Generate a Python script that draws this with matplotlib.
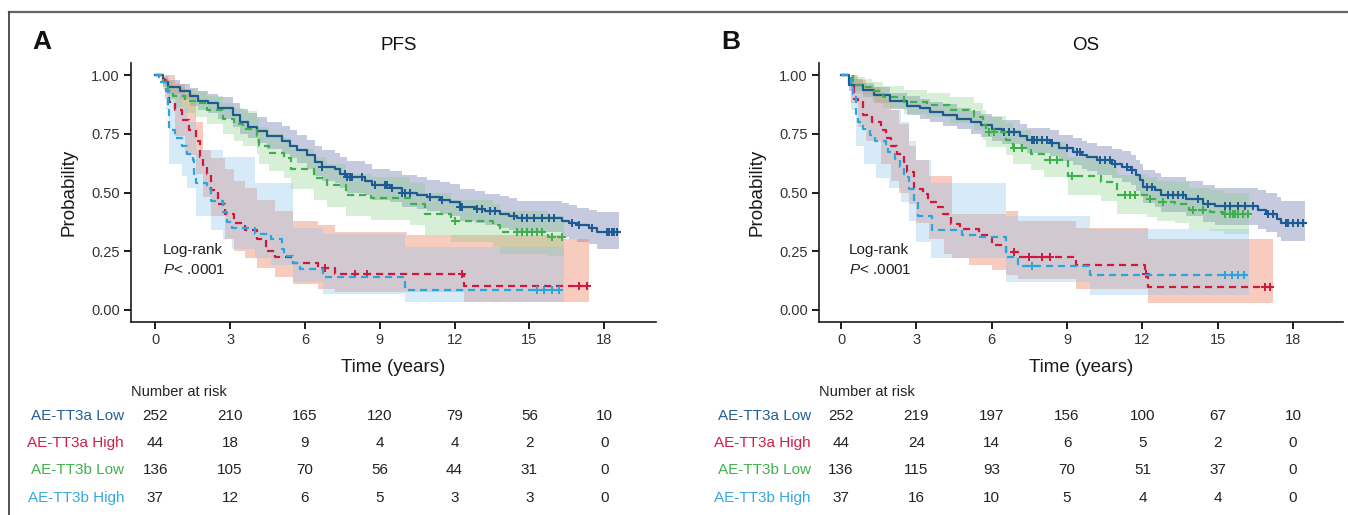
#!/usr/bin/env python3
"""Kaplan-Meier panels (PFS / OS) for AE-TT3a / AE-TT3b groups with risk tables."""

import numpy as np
import matplotlib
matplotlib.use("Agg")
import matplotlib.pyplot as plt
from matplotlib.lines import Line2D
from matplotlib.transforms import blended_transform_factory

plt.rcParams["font.family"] = ["Liberation Sans", "DejaVu Sans"]
plt.rcParams["mathtext.fontset"] = "custom"
plt.rcParams["mathtext.it"] = "Liberation Sans:italic"
plt.rcParams["mathtext.rm"] = "Liberation Sans"

GROUPS = ["AE-TT3a Low", "AE-TT3a High", "AE-TT3b Low", "AE-TT3b High"]
RISK_TIMES = [0, 3, 6, 9, 12, 15, 18]

# ---- PFS ------------------------------------------------------------------
# low groups: CI bounds given at the same step times as the curve
pfs_a_low_t = [0, 0.3, 0.5, 1.0, 1.4, 1.7, 2.1, 2.5, 3.1, 3.4, 3.7, 4.1, 4.5, 5.1,
               5.4, 5.7, 6.1, 6.4, 6.7, 7.2, 7.4, 7.7, 8.4, 8.7, 9.4, 9.9, 10.5,
               10.9, 11.4, 11.8, 12.2, 12.8, 13.2, 13.8, 14.2, 14.5, 16.3, 16.6,
               16.9, 17.4, 17.7, 18.6]
pfs_a_low_s = [1.0, 0.97, 0.95, 0.93, 0.91, 0.89, 0.88, 0.86, 0.83, 0.80, 0.78,
               0.76, 0.74, 0.72, 0.70, 0.68, 0.66, 0.63, 0.61, 0.60, 0.58, 0.565,
               0.55, 0.53, 0.52, 0.50, 0.49, 0.48, 0.47, 0.46, 0.44, 0.43, 0.42,
               0.41, 0.40, 0.39, 0.38, 0.37, 0.36, 0.35, 0.33, 0.33]
pfs_a_low_hi = [1.0, 0.99, 0.98, 0.96, 0.945, 0.93, 0.92, 0.905, 0.88, 0.855, 0.84,
                0.82, 0.80, 0.785, 0.765, 0.745, 0.725, 0.70, 0.68, 0.67, 0.65,
                0.635, 0.62, 0.60, 0.59, 0.575, 0.565, 0.555, 0.545, 0.535, 0.515,
                0.505, 0.495, 0.485, 0.475, 0.465, 0.455, 0.445, 0.435, 0.425,
                0.415, 0.415]
pfs_a_low_lo = [1.0, 0.95, 0.92, 0.90, 0.87, 0.85, 0.84, 0.815, 0.78, 0.75, 0.73,
                0.71, 0.685, 0.665, 0.645, 0.625, 0.60, 0.57, 0.55, 0.54, 0.52,
                0.50, 0.49, 0.47, 0.46, 0.44, 0.43, 0.42, 0.41, 0.40, 0.38, 0.37,
                0.36, 0.35, 0.34, 0.33, 0.31, 0.30, 0.29, 0.28, 0.26, 0.26]
pfs_a_low_cens = [6.7, 7.6, 7.7, 7.8, 7.9, 8.3, 8.8, 9.2, 9.3, 9.5, 9.9, 10.0, 10.2,
                  11.0, 11.5, 12.2, 12.3, 12.9, 13.1, 13.4, 13.6, 14.4, 14.7, 14.9,
                  15.2, 15.5, 15.8, 16.0, 16.7, 17.0, 17.5, 18.1, 18.2, 18.3, 18.4,
                  18.5]

pfs_a_high_t = [0, 0.36, 0.43, 0.57, 0.79, 1.07, 1.36, 1.65, 1.79, 1.93, 2.07, 2.22,
                2.5, 2.79, 3.15, 3.58, 4.08, 4.43, 4.79, 5.51, 6.51, 7.22, 12.37,
                17.38]
pfs_a_high_s = [1.0, 0.98, 0.93, 0.885, 0.85, 0.81, 0.765, 0.72, 0.65, 0.615, 0.58,
                0.51, 0.45, 0.41, 0.37, 0.34, 0.30, 0.25, 0.225, 0.20, 0.18, 0.155,
                0.10, 0.10]
pfs_a_high_cens = [6.8, 8.0, 8.5, 12.3, 17.0, 17.3]
pfs_a_high_ci_t = [0, 0.4, 0.8, 1.2, 1.65, 1.93, 2.22, 2.79, 3.15, 3.58, 4.08, 4.79,
                   5.51, 6.51, 7.22, 10.1, 12.37, 16.3, 17.38]
pfs_a_high_hi = [1.0, 1.0, 0.96, 0.92, 0.80, 0.68, 0.645, 0.60, 0.55, 0.52, 0.47,
                 0.42, 0.38, 0.36, 0.33, 0.32, 0.32, 0.30, 0.30]
pfs_a_high_lo = [1.0, 0.90, 0.74, 0.66, 0.58, 0.48, 0.40, 0.30, 0.25, 0.22, 0.18,
                 0.14, 0.11, 0.09, 0.075, 0.075, 0.035, 0.035, 0.035]

pfs_b_low_t = [0, 0.3, 0.5, 0.7, 1.2, 1.6, 2.07, 2.72, 3.15, 3.5, 4.08, 4.15, 4.58,
               5.15, 5.44, 6.37, 6.87, 7.65, 8.66, 10.23, 10.8, 11.87, 13.52, 13.8,
               15.74, 16.38]
pfs_b_low_s = [1.0, 0.97, 0.93, 0.91, 0.89, 0.88, 0.85, 0.815, 0.79, 0.77, 0.74,
               0.70, 0.67, 0.645, 0.60, 0.56, 0.53, 0.49, 0.475, 0.45, 0.41, 0.38,
               0.36, 0.33, 0.31, 0.31]
pfs_b_low_hi = [1.0, 0.995, 0.97, 0.955, 0.94, 0.93, 0.91, 0.88, 0.86, 0.845, 0.815,
                0.78, 0.75, 0.73, 0.685, 0.65, 0.62, 0.58, 0.565, 0.54, 0.50, 0.47,
                0.45, 0.42, 0.40, 0.40]
pfs_b_low_lo = [1.0, 0.94, 0.89, 0.86, 0.84, 0.82, 0.79, 0.75, 0.72, 0.70, 0.665,
                0.62, 0.59, 0.56, 0.515, 0.47, 0.44, 0.40, 0.385, 0.36, 0.32, 0.29,
                0.27, 0.24, 0.23, 0.23]
pfs_b_low_cens = [12.0, 14.5, 14.7, 14.9, 15.1, 15.3, 15.5, 15.9, 16.3]

pfs_b_high_t = [0, 0.14, 0.43, 0.5, 0.57, 0.79, 1.07, 1.29, 1.5, 1.57, 1.65, 2.07,
                2.22, 2.72, 2.86, 3.08, 4.0, 4.65, 5.08, 5.15, 5.51, 5.79, 6.72,
                10.01, 16.38]
pfs_b_high_s = [1.0, 0.97, 0.93, 0.85, 0.765, 0.73, 0.70, 0.665, 0.64, 0.58, 0.54,
                0.515, 0.465, 0.415, 0.375, 0.35, 0.325, 0.30, 0.26, 0.23, 0.20,
                0.175, 0.14, 0.085, 0.085]
pfs_b_high_cens = [15.3, 15.6, 15.9, 16.2]
pfs_b_high_ci_t = [0, 0.43, 0.57, 1.07, 1.29, 1.65, 2.22, 2.72, 3.08, 4.0, 4.65,
                   5.51, 6.72, 10.01, 16.38]
pfs_b_high_hi = [1.0, 1.0, 0.93, 0.86, 0.80, 0.68, 0.68, 0.65, 0.65, 0.54, 0.54,
                 0.35, 0.325, 0.27, 0.27]
pfs_b_high_lo = [1.0, 0.85, 0.62, 0.57, 0.52, 0.40, 0.34, 0.30, 0.26, 0.22, 0.19,
                 0.12, 0.07, 0.035, 0.035]

# ---- OS -------------------------------------------------------------------
os_a_low_t = [0, 0.32, 0.88, 1.30, 1.94, 2.64, 3.13, 3.55, 4.04, 4.6, 5.16, 5.58,
              6.0, 6.42, 7.12, 7.41, 8.32, 8.67, 9.23, 9.58, 9.79, 10.21, 10.77,
              11.19, 11.54, 11.75, 11.89, 12.03, 12.52, 12.73, 13.72, 14.42, 14.91,
              16.59, 16.94, 17.36, 17.5, 18.49]
os_a_low_s = [1.0, 0.957, 0.935, 0.915, 0.89, 0.87, 0.858, 0.843, 0.83, 0.815, 0.80,
              0.787, 0.772, 0.758, 0.74, 0.725, 0.711, 0.69, 0.673, 0.66, 0.651,
              0.637, 0.623, 0.609, 0.595, 0.573, 0.552, 0.523, 0.51, 0.488, 0.474,
              0.452, 0.441, 0.424, 0.41, 0.388, 0.371, 0.371]
os_a_low_hi = [1.0, 0.985, 0.965, 0.95, 0.925, 0.91, 0.90, 0.885, 0.875, 0.86, 0.845,
               0.835, 0.82, 0.81, 0.79, 0.775, 0.765, 0.745, 0.73, 0.72, 0.71, 0.70,
               0.685, 0.675, 0.66, 0.64, 0.62, 0.595, 0.585, 0.565, 0.55, 0.53,
               0.52, 0.51, 0.50, 0.48, 0.465, 0.465]
os_a_low_lo = [1.0, 0.93, 0.905, 0.88, 0.855, 0.83, 0.815, 0.80, 0.785, 0.77, 0.75,
               0.735, 0.72, 0.705, 0.685, 0.67, 0.655, 0.635, 0.615, 0.60, 0.59,
               0.575, 0.56, 0.545, 0.53, 0.505, 0.485, 0.455, 0.44, 0.415, 0.40,
               0.375, 0.36, 0.345, 0.33, 0.31, 0.295, 0.295]
os_a_low_cens = [6.5, 6.7, 6.9, 7.6, 7.7, 7.8, 8.0, 8.2, 8.4, 9.0, 9.4, 9.5, 10.3,
                 10.5, 10.7, 10.9, 11.4, 11.6, 12.2, 12.4, 13.0, 13.2, 13.4, 13.6,
                 14.2, 14.6, 15.3, 15.5, 15.8, 16.1, 16.4, 17.0, 17.2, 17.7, 17.8,
                 18.0, 18.2, 18.4]

os_a_high_t = [0, 0.39, 0.53, 0.67, 0.88, 1.23, 1.58, 1.8, 2.0, 2.22, 2.5, 2.64,
               2.92, 3.27, 3.48, 3.76, 4.04, 4.39, 4.74, 5.51, 6.0, 6.56, 7.05, 9.37,
               12.1, 12.24, 17.22]
os_a_high_s = [1.0, 0.957, 0.90, 0.886, 0.83, 0.80, 0.765, 0.73, 0.70, 0.666, 0.63,
               0.587, 0.516, 0.495, 0.46, 0.438, 0.41, 0.367, 0.346, 0.317, 0.275,
               0.246, 0.225, 0.19, 0.154, 0.097, 0.097]
os_a_high_cens = [6.9, 7.5, 8.0, 8.3, 12.15, 16.9, 17.1]
os_a_high_ci_t = [0, 0.39, 0.67, 1.0, 1.58, 2.0, 2.3, 2.7, 3.0, 3.5, 4.1, 4.4, 5.1,
                  6.0, 6.56, 7.05, 9.37, 12.24, 17.22]
os_a_high_hi = [1.0, 1.0, 0.98, 0.95, 0.90, 0.85, 0.79, 0.70, 0.64, 0.57, 0.57,
                0.41, 0.41, 0.41, 0.42, 0.38, 0.35, 0.30, 0.30]
os_a_high_lo = [1.0, 0.88, 0.78, 0.72, 0.62, 0.55, 0.50, 0.45, 0.37, 0.30, 0.24,
                0.22, 0.19, 0.17, 0.15, 0.13, 0.09, 0.03, 0.03]

os_b_low_t = [0, 0.46, 0.95, 1.23, 1.65, 2.5, 3.41, 4.32, 5.3, 5.65, 5.79, 6.56,
              6.84, 7.55, 8.1, 9.02, 10.35, 10.98, 12.17, 12.6, 13.3, 13.86, 14.7,
              15.26, 16.24]
os_b_low_s = [1.0, 0.957, 0.95, 0.93, 0.908, 0.886, 0.872, 0.85, 0.822, 0.787, 0.758,
              0.725, 0.69, 0.666, 0.637, 0.569, 0.545, 0.488, 0.474, 0.46, 0.452,
              0.424, 0.417, 0.407, 0.407]
os_b_low_hi = [1.0, 0.99, 0.985, 0.97, 0.955, 0.935, 0.925, 0.905, 0.88, 0.85, 0.825,
               0.795, 0.765, 0.74, 0.715, 0.65, 0.63, 0.575, 0.565, 0.55, 0.545,
               0.52, 0.51, 0.50, 0.50]
os_b_low_lo = [1.0, 0.92, 0.91, 0.89, 0.86, 0.835, 0.82, 0.795, 0.765, 0.725, 0.695,
               0.66, 0.62, 0.595, 0.565, 0.49, 0.465, 0.41, 0.395, 0.38, 0.37,
               0.345, 0.335, 0.325, 0.325]
os_b_low_cens = [5.9, 6.1, 6.9, 7.2, 8.3, 8.6, 9.2, 11.3, 11.5, 11.7, 12.3, 12.8,
                 14.0, 14.4, 15.3, 15.5, 15.6, 15.7, 15.8, 16.0, 16.2]

os_b_high_t = [0, 0.39, 0.46, 0.6, 0.67, 0.88, 1.16, 1.37, 1.8, 1.87, 2.15, 2.36,
               2.5, 2.71, 2.92, 3.06, 3.62, 4.81, 5.51, 6.56, 7.05, 9.93, 16.24]
os_b_high_s = [1.0, 0.96, 0.92, 0.836, 0.80, 0.772, 0.744, 0.72, 0.70, 0.673, 0.644,
               0.609, 0.566, 0.516, 0.467, 0.40, 0.339, 0.317, 0.31, 0.225, 0.185,
               0.147, 0.147]
os_b_high_cens = [7.6, 15.3, 15.55, 15.8, 16.05]
os_b_high_ci_t = [0, 0.39, 0.6, 0.9, 1.4, 1.9, 2.4, 2.7, 3.0, 3.6, 6.56, 9.93, 16.24]
os_b_high_hi = [1.0, 1.0, 0.96, 0.92, 0.88, 0.85, 0.80, 0.72, 0.64, 0.54, 0.40,
                0.345, 0.345]
os_b_high_lo = [1.0, 0.85, 0.70, 0.62, 0.56, 0.52, 0.46, 0.38, 0.29, 0.22, 0.12,
                0.065, 0.065]

# ---- numbers at risk ------------------------------------------------------
pfs_risk_a_low = [252, 210, 165, 120, 79, 56, 10]
pfs_risk_a_high = [44, 18, 9, 4, 4, 2, 0]
pfs_risk_b_low = [136, 105, 70, 56, 44, 31, 0]
pfs_risk_b_high = [37, 12, 6, 5, 3, 3, 0]
os_risk_a_low = [252, 219, 197, 156, 100, 67, 10]
os_risk_a_high = [44, 24, 14, 6, 5, 2, 0]
os_risk_b_low = [136, 115, 93, 70, 51, 37, 0]
os_risk_b_high = [37, 16, 10, 5, 4, 4, 0]

LINE_COLORS = ["#1d5a91", "#d0183f", "#3cb04a", "#2ba5df"]
TEXT_COLORS = ["#245f97", "#d21f46", "#3fb24c", "#34a9e2"]
FILL_COLORS = ["#5e68a6", "#ec8366", "#7dcb7a", "#8ec6ee"]
FILL_ALPHA = [0.35, 0.42, 0.30, 0.36]
DASHED = [False, True, True, True]

W, H = 1348, 515


def step_value(t, s, x):
    idx = np.searchsorted(np.asarray(t), np.asarray(x), side="right") - 1
    return np.asarray(s)[idx]


def draw_panel(ax, curves, risk, letter, title, lx, rowlab_x, fig):
    for k, (t, s, cens, ct, lo, hi) in enumerate(curves):
        ax.fill_between(ct, lo, hi, step="post", color=FILL_COLORS[k],
                        alpha=FILL_ALPHA[k], linewidth=0, zorder=1)
    for k, (t, s, cens, ct, lo, hi) in enumerate(curves):
        ls = (0, (3.2, 2.2)) if DASHED[k] else "-"
        ax.step(t, s, where="post", color=LINE_COLORS[k], lw=1.6,
                linestyle=ls, zorder=3 + k)
        ax.plot(cens, step_value(t, s, cens), linestyle="none", marker="+",
                ms=6, mew=1.4, color=LINE_COLORS[k], zorder=3 + k)

    ax.set_ylim(-0.05, 1.05)
    ax.set_xticks(RISK_TIMES)
    ax.set_yticks([0, 0.25, 0.5, 0.75, 1.0])
    ax.set_yticklabels(["0.00", "0.25", "0.50", "0.75", "1.00"])
    for sp in ("top", "right"):
        ax.spines[sp].set_visible(False)
    for sp in ("left", "bottom"):
        ax.spines[sp].set_linewidth(1.2)
        ax.spines[sp].set_color("#1a1a1a")
    ax.tick_params(length=5, width=1.4, color="#1a1a1a", labelsize=10.5,
                   labelcolor="#333333", pad=3)
    ax.set_xlabel("Time (years)", fontsize=13.5, labelpad=9, color="#1a1a1a")
    ax.set_ylabel("Probability", fontsize=13.5, labelpad=10, color="#1a1a1a")

    ax.text(0.32, 0.255, "Log-rank", fontsize=11, va="center", color="#222222")
    ax.text(0.32, 0.17, r"$P$< .0001", fontsize=11, va="center", color="#222222")

    fig.text(lx / W, 1 - 42 / H, letter, fontsize=19, fontweight="bold",
             ha="center", va="center", color="#111111")
    pos = ax.get_position()
    fig.text(pos.x0 + pos.width * 0.5 + 5 / W, 1 - 45 / H, title, fontsize=13.5,
             ha="center", va="center", color="#111111")

    tr = blended_transform_factory(ax.transData, fig.transFigure)
    fig.text(pos.x0, 1 - 392 / H, "Number at risk", fontsize=10.5,
             ha="left", va="center", color="#222222")
    row_y = [416.5, 443, 470.5, 498]
    for k, row in enumerate(risk):
        fig.text(rowlab_x / W, 1 - row_y[k] / H, GROUPS[k], fontsize=11,
                 ha="right", va="center", color=TEXT_COLORS[k])
        for x, n in zip(RISK_TIMES, row):
            ax.text(x, 1 - row_y[k] / H, str(n), transform=tr, fontsize=11,
                    ha="center", va="center", color="#222222", clip_on=False)


def main():
    fig = plt.figure(figsize=(W / 100, H / 100), dpi=100)
    fig.patch.set_facecolor("white")

    ax_a = fig.add_axes([131 / W, 1 - 321.7 / H, 524.7 / W, 258.4 / H])
    ax_a.set_xlim(-0.97, 20.06)
    ax_b = fig.add_axes([819 / W, 1 - 321.7 / H, 524.3 / W, 258.4 / H])
    ax_b.set_xlim(-0.88, 20.0)

    pfs_curves = [
        (pfs_a_low_t, pfs_a_low_s, pfs_a_low_cens, pfs_a_low_t, pfs_a_low_lo, pfs_a_low_hi),
        (pfs_a_high_t, pfs_a_high_s, pfs_a_high_cens, pfs_a_high_ci_t, pfs_a_high_lo, pfs_a_high_hi),
        (pfs_b_low_t, pfs_b_low_s, pfs_b_low_cens, pfs_b_low_t, pfs_b_low_lo, pfs_b_low_hi),
        (pfs_b_high_t, pfs_b_high_s, pfs_b_high_cens, pfs_b_high_ci_t, pfs_b_high_lo, pfs_b_high_hi),
    ]
    os_curves = [
        (os_a_low_t, os_a_low_s, os_a_low_cens, os_a_low_t, os_a_low_lo, os_a_low_hi),
        (os_a_high_t, os_a_high_s, os_a_high_cens, os_a_high_ci_t, os_a_high_lo, os_a_high_hi),
        (os_b_low_t, os_b_low_s, os_b_low_cens, os_b_low_t, os_b_low_lo, os_b_low_hi),
        (os_b_high_t, os_b_high_s, os_b_high_cens, os_b_high_ci_t, os_b_high_lo, os_b_high_hi),
    ]
    pfs_risk = [pfs_risk_a_low, pfs_risk_a_high, pfs_risk_b_low, pfs_risk_b_high]
    os_risk = [os_risk_a_low, os_risk_a_high, os_risk_b_low, os_risk_b_high]

    draw_panel(ax_a, pfs_curves, pfs_risk, "A", "PFS", 42, 124, fig)
    draw_panel(ax_b, os_curves, os_risk, "B", "OS", 731, 811, fig)

    # outer frame (only top and left edges fall inside the crop)
    fig.add_artist(Line2D([9 / W, 1.0], [1 - 11.7 / H, 1 - 11.7 / H],
                          transform=fig.transFigure, color="#666666", lw=1.6))
    fig.add_artist(Line2D([9 / W, 9 / W], [0, 1 - 11.7 / H],
                          transform=fig.transFigure, color="#444444", lw=1.3))

    fig.savefig("out.png", dpi=100, facecolor="white")
    plt.close(fig)


if __name__ == "__main__":
    main()
